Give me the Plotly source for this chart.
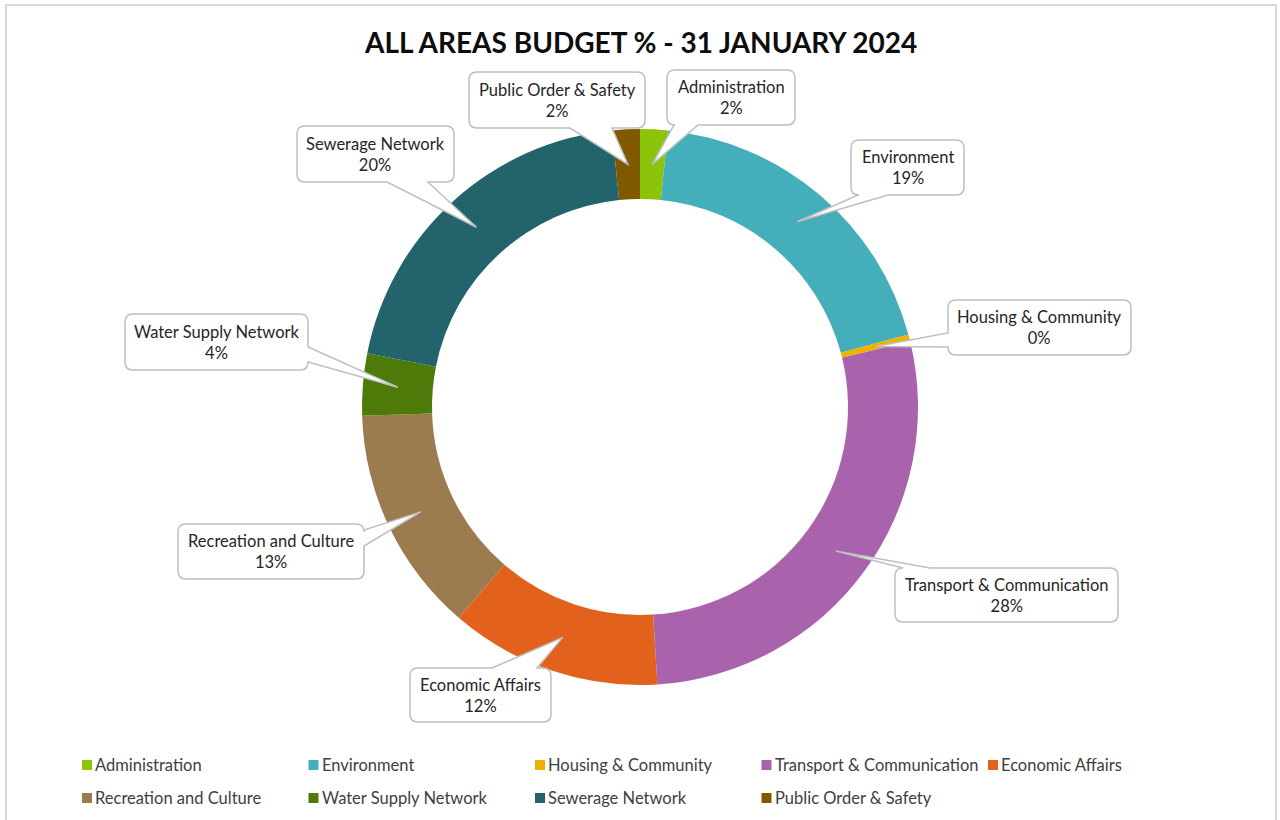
import math
import plotly.graph_objects as go

# Budget share by area (percent of total)
areas = [
    "Administration", "Environment", "Housing & Community",
    "Transport & Communication", "Economic Affairs", "Recreation and Culture",
    "Water Supply Network", "Sewerage Network", "Public Order & Safety",
]
shares = [1.6, 19.2, 0.4, 27.8, 12.3, 13.2, 3.6, 20.3, 1.6]
colors = ["#8CC40A", "#45AEBB", "#EDB100", "#A962AC", "#E2621D",
          "#9C7B4E", "#4E7A0A", "#22636C", "#7F5800"]

title = "ALL AREAS BUDGET % - 31 JANUARY 2024"

W, H = 1280, 820
FONT = "Lato, 'Open Sans', sans-serif"

# donut geometry in pixels
CX, CY = 640, 407
R_OUT, R_IN = 278, 208
R_MID = (R_OUT + R_IN) / 2

# callout boxes: (x0, y0, x1, y1, edge carrying the pointer, base start, base end)
callouts = {
    "Administration": (667, 70, 795, 125, "bottom", 674, 698),
    "Environment": (851, 140, 964, 195, "bottom", 858, 888),
    "Housing & Community": (948, 300, 1131, 355, "left", 333, 347),
    "Transport & Communication": (895, 568, 1118, 622, "top", 903, 930),
    "Economic Affairs": (410, 668, 551, 722, "top", 492, 537),
    "Recreation and Culture": (178, 524, 364, 579, "right", 530, 546),
    "Water Supply Network": (125, 314, 308, 370, "right", 347, 362),
    "Sewerage Network": (297, 126, 454, 182, "bottom", 387, 428),
    "Public Order & Safety": (469, 72, 645, 128, "bottom", 570, 612),
}

total = sum(shares)

fig = go.Figure()
fig.add_trace(go.Pie(
    labels=areas, values=shares, sort=False, direction="clockwise",
    rotation=0, hole=R_IN / R_OUT, textinfo="none", hoverinfo="label+percent",
    marker=dict(colors=colors, line=dict(width=0)),
    domain=dict(x=[(CX - R_OUT) / W, (CX + R_OUT) / W],
                y=[1 - (CY + R_OUT) / H, 1 - (CY - R_OUT) / H]),
    showlegend=False,
))

# hidden pixel-space axes for shapes and labels
fig.update_xaxes(range=[0, W], visible=False, fixedrange=True)
fig.update_yaxes(range=[H, 0], visible=False, fixedrange=True)


def callout_path(x0, y0, x1, y1, edge, a, b, tip, r=8):
    tx, ty = tip
    p = [f"M{x0 + r},{y0}"]
    if edge == "top":
        p += [f"L{a},{y0}", f"L{tx},{ty}", f"L{b},{y0}"]
    p += [f"L{x1 - r},{y0}", f"Q{x1},{y0} {x1},{y0 + r}"]
    if edge == "right":
        p += [f"L{x1},{a}", f"L{tx},{ty}", f"L{x1},{b}"]
    p += [f"L{x1},{y1 - r}", f"Q{x1},{y1} {x1 - r},{y1}"]
    if edge == "bottom":
        p += [f"L{b},{y1}", f"L{tx},{ty}", f"L{a},{y1}"]
    p += [f"L{x0 + r},{y1}", f"Q{x0},{y1} {x0},{y1 - r}"]
    if edge == "left":
        p += [f"L{x0},{b}", f"L{tx},{ty}", f"L{x0},{a}"]
    p += [f"L{x0},{y0 + r}", f"Q{x0},{y0} {x0 + r},{y0}", "Z"]
    return " ".join(p)


shapes = [dict(type="rect", xref="x", yref="y", x0=6, y0=5, x1=1276, y1=835,
               line=dict(color="#D9D9D9", width=2), fillcolor="rgba(0,0,0,0)",
               layer="below")]
annotations = []

cum = 0.0
for name, val in zip(areas, shares):
    mid = (cum + val / 2) / total * 2 * math.pi
    cum += val
    tip = (CX + R_MID * math.sin(mid), CY - R_MID * math.cos(mid))
    x0, y0, x1, y1, edge, a, b = callouts[name]
    shapes.append(dict(type="path", xref="x", yref="y", layer="above",
                       path=callout_path(x0, y0, x1, y1, edge, a, b, tip),
                       fillcolor="white", line=dict(color="#BFBFBF", width=1.5)))
    pct = round(val / total * 100)
    annotations.append(dict(
        x=(x0 + x1) / 2, y=(y0 + y1) / 2, xref="x", yref="y",
        text=f"{name}<br>{pct}%", showarrow=False, align="center",
        font=dict(family=FONT, size=16.5, color="#262626"),
        xanchor="center", yanchor="middle",
    ))

# legend laid out in two rows of fixed-width columns
LEG_X0, LEG_COL, LEG_ROW0, LEG_ROWH, PER_ROW = 82, 226.5, 765, 33, 5
for i, (name, col) in enumerate(zip(areas, colors)):
    row, c = divmod(i, PER_ROW)
    lx = LEG_X0 + c * LEG_COL
    ly = LEG_ROW0 + row * LEG_ROWH
    shapes.append(dict(type="rect", xref="x", yref="y", x0=lx, x1=lx + 10,
                       y0=ly - 5, y1=ly + 5, fillcolor=col, line=dict(width=0)))
    annotations.append(dict(
        x=lx + 11, y=ly, xref="x", yref="y", text=name, showarrow=False,
        xanchor="left", yanchor="middle",
        font=dict(family=FONT, size=16.5, color="#404040"),
    ))

annotations.append(dict(
    x=W / 2, y=42, xref="x", yref="y", text=f"<b>{title}</b>", showarrow=False,
    xanchor="center", yanchor="middle",
    font=dict(family=FONT, size=28, color="#0D0D0D"),
))

fig.update_layout(
    width=W, height=H, margin=dict(l=0, r=0, t=0, b=0),
    paper_bgcolor="white", plot_bgcolor="white",
    shapes=shapes, annotations=annotations, showlegend=False,
)

fig.write_html("out.html", include_plotlyjs=True, config={"displayModeBar": False})
